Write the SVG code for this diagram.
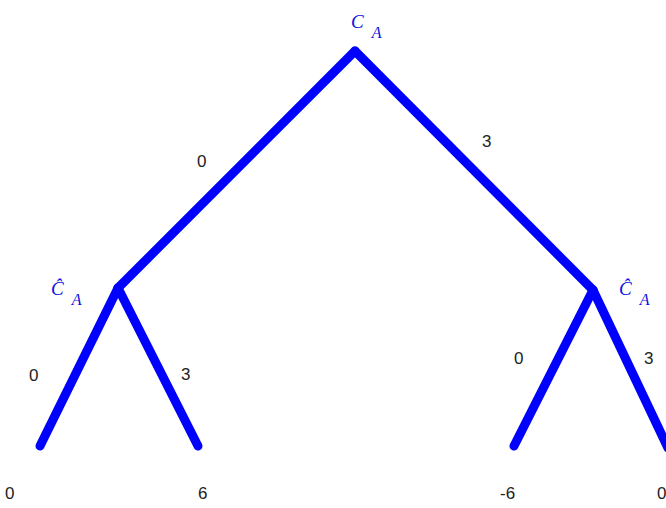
<svg xmlns="http://www.w3.org/2000/svg" width="666" height="508" viewBox="0 0 666 508">
<style>
.e{stroke:#0000ff;stroke-width:9;stroke-linecap:round;fill:none}
.t{font-family:"Liberation Sans Narrow","Liberation Sans",Arial,sans-serif;font-size:17px;fill:#222}
.n{font-family:"Liberation Serif","Times New Roman",serif;font-style:italic;fill:#1010e0}
</style>
<rect width="666" height="508" fill="#fff"/>
<g id="connectors">
<line class="e" x1="355" y1="51" x2="118" y2="288"/>
<line class="e" x1="355" y1="51" x2="593" y2="290"/>
<line class="e" x1="118" y1="288" x2="40" y2="446"/>
<line class="e" x1="118" y1="288" x2="198" y2="446"/>
<line class="e" x1="593" y1="290" x2="514" y2="446"/>
<line class="e" x1="593" y1="290" x2="668" y2="448"/>
</g>
<g id="edge-labels">
<text class="t" x="197" y="167">0</text>
<text class="t" x="482" y="147">3</text>
<text class="t" x="29" y="381">0</text>
<text class="t" x="181" y="380">3</text>
<text class="t" x="514" y="364">0</text>
<text class="t" x="644" y="364">3</text>
</g>
<g id="root"><text class="n" x="351" y="28" font-size="19">C<tspan font-size="16" dx="8" dy="10">A</tspan></text></g>
<g id="left"><text class="n" x="51" y="295" font-size="19">Ĉ<tspan font-size="16" dx="8" dy="10">A</tspan></text></g>
<g id="right"><text class="n" x="619" y="295" font-size="19">Ĉ<tspan font-size="16" dx="8" dy="10">A</tspan></text></g>
<g id="leaves">
<text class="t" x="5" y="499">0</text>
<text class="t" x="198" y="499">6</text>
<text class="t" x="500" y="499">-6</text>
<text class="t" x="657" y="499">0</text>
</g>
</svg>
